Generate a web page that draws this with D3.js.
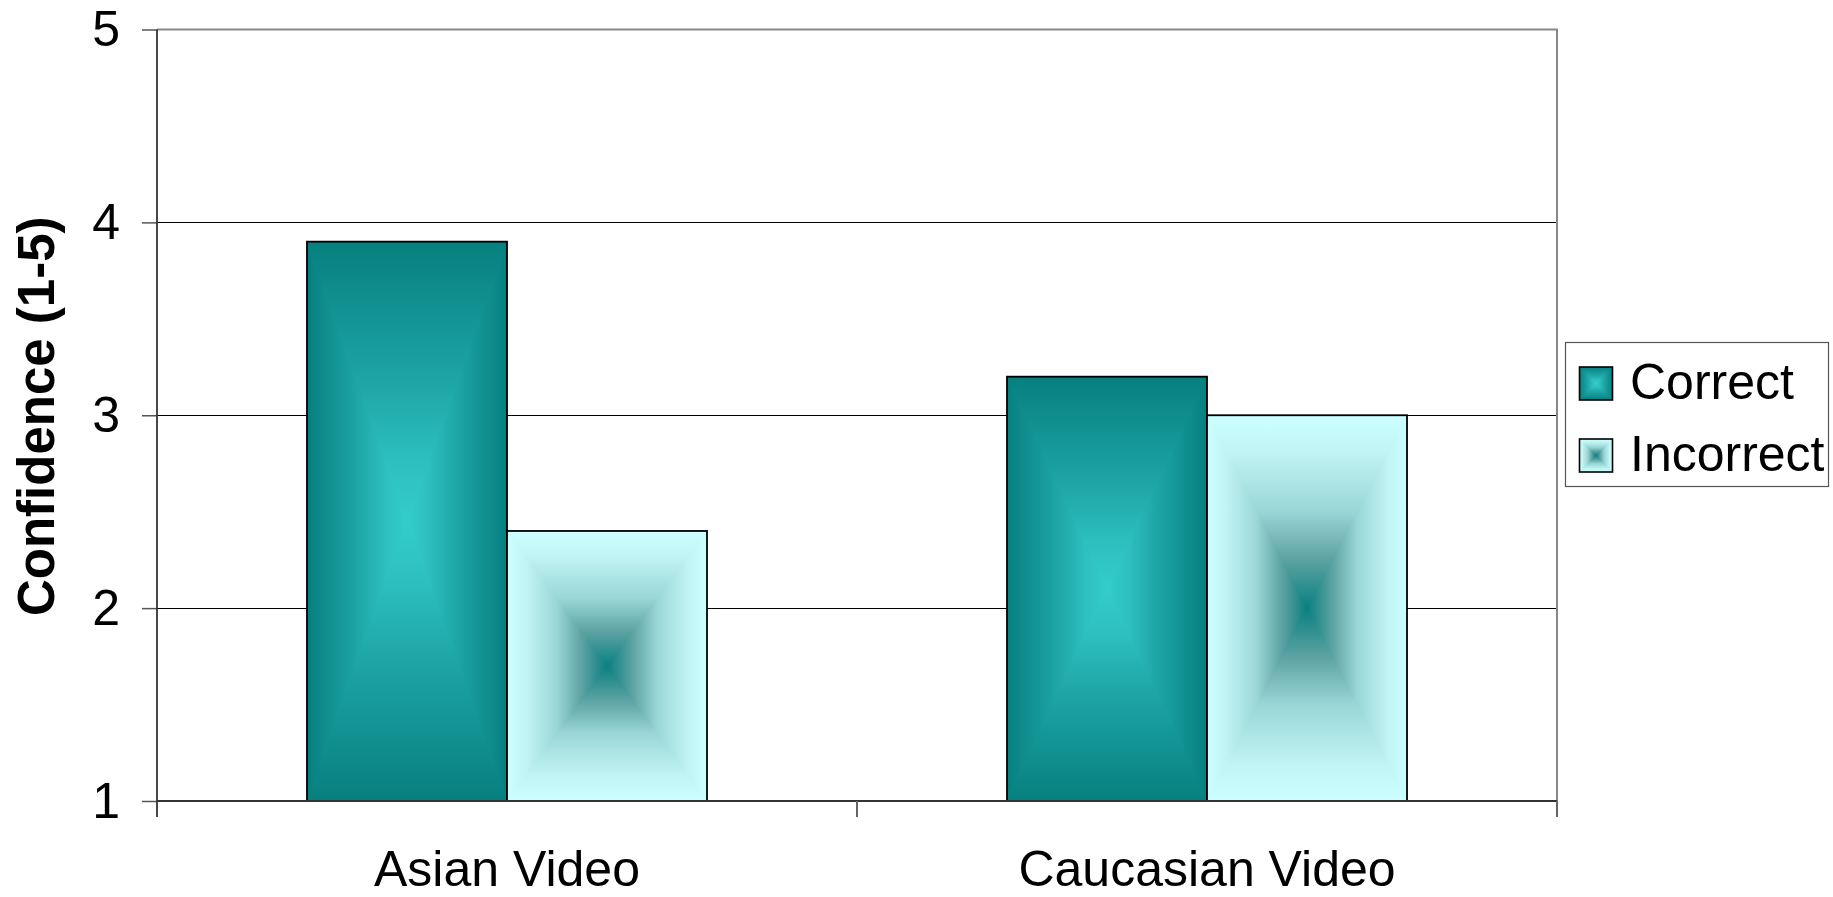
<!DOCTYPE html>
<html>
<head>
<meta charset="utf-8">
<script src="https://cdn.jsdelivr.net/npm/d3@7"></script>
<style>
  html, body { margin: 0; padding: 0; background: #fff; }
  svg { display: block; font-family: "Liberation Sans", Arial, sans-serif; }
</style>
</head>
<body>
<svg id="chart" width="1833" height="897"></svg>
<script>
// Mean confidence ratings by video type and identification accuracy
const categories = ["Asian Video", "Caucasian Video"];
const series = ["Correct", "Incorrect"];
const correctValues = [3.9, 3.2];
const incorrectValues = [2.4, 3.0];
const yTicks = [1, 2, 3, 4, 5];
const yTitle = "Confidence (1-5)";

const seriesValues = { Correct: correctValues, Incorrect: incorrectValues };
// Rectangular "from centre" fills: colour stops from the edge (0) to the centre (1)
const fills = {
  Correct: [[0, "#077f7f"], [0.5, "#1ea5a5"], [0.8, "#2ec0c0"], [1, "#33CCCC"]],
  Incorrect: [[0, "#CCFFFF"], [0.2, "#c0f3f3"], [0.5, "#9ad6d6"], [0.75, "#5ca2a2"], [1, "#0a8080"]]
};

const plot = { left: 157, right: 1557, top: 29.5, bottom: 801 };

const svg = d3.select("#chart");
const defs = svg.append("defs");

const y = d3.scaleLinear().domain([1, 5]).range([plot.bottom, plot.top]);
const x0 = d3.scaleBand().domain(categories).range([plot.left, plot.right]).padding(0);
const x1 = d3.scaleBand().domain(series).range([0, x0.bandwidth()])
  .paddingInner(0).paddingOuter(0.75);

// Gradient definitions (bounding-box units, reused by every bar of a series)
series.forEach(s => {
  const stops = fills[s];
  const h = defs.append("linearGradient").attr("id", `h-${s}`)
    .attr("x1", 0).attr("y1", 0).attr("x2", 1).attr("y2", 0);
  stops.forEach(([o, c]) => h.append("stop").attr("offset", o / 2).attr("stop-color", c));
  stops.slice().reverse().forEach(([o, c]) => h.append("stop").attr("offset", 1 - o / 2).attr("stop-color", c));
  const t = defs.append("linearGradient").attr("id", `t-${s}`)
    .attr("x1", 0).attr("y1", 0).attr("x2", 0).attr("y2", 1);
  stops.forEach(([o, c]) => t.append("stop").attr("offset", o).attr("stop-color", c));
  const b = defs.append("linearGradient").attr("id", `b-${s}`)
    .attr("x1", 0).attr("y1", 1).attr("x2", 0).attr("y2", 0);
  stops.forEach(([o, c]) => b.append("stop").attr("offset", o).attr("stop-color", c));
});

// Paints a rectangle whose colour runs in concentric rectangles from edge to centre:
// a full horizontal ramp underneath, with top and bottom wedges (apex at the centre) on top
function gradientRect(g, s, x, yTop, w, h, strokeW) {
  const cx = x + w / 2, cy = yTop + h / 2;
  g.append("rect").attr("x", x).attr("y", yTop).attr("width", w).attr("height", h)
    .attr("fill", `url(#h-${s})`);
  g.append("path").attr("d", d3.line()([[x, yTop], [x + w, yTop], [cx, cy]]) + "Z")
    .attr("fill", `url(#t-${s})`);
  g.append("path").attr("d", d3.line()([[x, yTop + h], [x + w, yTop + h], [cx, cy]]) + "Z")
    .attr("fill", `url(#b-${s})`);
  g.append("rect").attr("x", x).attr("y", yTop).attr("width", w).attr("height", h)
    .attr("fill", "none").attr("stroke", "#000").attr("stroke-width", strokeW);
}

// Gridlines
svg.append("g").selectAll("line").data(yTicks.filter(v => v > 1 && v < 5)).join("line")
  .attr("x1", plot.left).attr("x2", plot.right)
  .attr("y1", d => Math.round(y(d)) + 0.5).attr("y2", d => Math.round(y(d)) + 0.5)
  .attr("stroke", "#000").attr("stroke-width", 1);

// Plot area border (top and right)
svg.append("path")
  .attr("d", `M${plot.left},${plot.top} H${plot.right} V${plot.bottom}`)
  .attr("fill", "none").attr("stroke", "#888").attr("stroke-width", 2);

// Bars
const groups = svg.append("g").selectAll("g").data(categories).join("g")
  .attr("transform", d => `translate(${x0(d)},0)`);
groups.each(function(cat, i) {
  const g = d3.select(this);
  series.forEach(s => {
    const v = seriesValues[s][i];
    const yTop = y(v);
    gradientRect(g, s, x1(s), yTop, x1.bandwidth(), y(1) - yTop, 1.8);
  });
});

// Y axis
const yAxis = svg.append("g").attr("transform", `translate(${plot.left},0)`)
  .call(d3.axisLeft(y).tickValues(yTicks).tickFormat(d3.format("d")).tickSize(15).tickPadding(22));
yAxis.select(".domain").remove();
yAxis.selectAll(".tick line").attr("stroke", "#555").attr("stroke-width", 1.5);
yAxis.selectAll(".tick text").attr("font-size", 50).attr("fill", "#000")
  .attr("font-family", "'Liberation Sans', Arial, sans-serif");
svg.append("line").attr("x1", plot.left).attr("x2", plot.left)
  .attr("y1", plot.top).attr("y2", plot.bottom + 16)
  .attr("stroke", "#333").attr("stroke-width", 1.8);

// X axis line, boundary ticks and category labels
svg.append("line").attr("x1", plot.left).attr("x2", plot.right)
  .attr("y1", plot.bottom).attr("y2", plot.bottom)
  .attr("stroke", "#333").attr("stroke-width", 2);
const bounds = categories.map(c => x0(c)).concat([x0(categories[categories.length - 1]) + x0.bandwidth()]);
svg.append("g").selectAll("line").data(bounds.slice(1)).join("line")
  .attr("x1", d => d).attr("x2", d => d)
  .attr("y1", plot.bottom).attr("y2", plot.bottom + 16)
  .attr("stroke", "#666").attr("stroke-width", 2);
svg.append("g").selectAll("text").data(categories).join("text")
  .attr("x", d => x0(d) + x0.bandwidth() / 2).attr("y", 886)
  .attr("text-anchor", "middle").attr("font-size", 50).attr("fill", "#000")
  .text(d => d);

// Y axis title
svg.append("text")
  .attr("transform", `translate(54,${(plot.top + plot.bottom) / 2 + 1}) rotate(-90)`)
  .attr("text-anchor", "middle").attr("font-size", 51).attr("font-weight", "bold")
  .attr("fill", "#000").text(yTitle);

// Legend
const legend = svg.append("g");
legend.append("rect").attr("x", 1565.5).attr("y", 342.5).attr("width", 263).attr("height", 144)
  .attr("fill", "#fff").attr("stroke", "#555").attr("stroke-width", 1.2);
series.forEach((s, i) => {
  const yy = 367 + i * 72;
  gradientRect(legend, s, 1579.5, yy, 33, 33, 1.6);
  legend.append("text").attr("x", 1630).attr("y", yy + 31.5)
    .attr("font-size", 50).attr("fill", "#000").text(s);
});
</script>
</body>
</html>
